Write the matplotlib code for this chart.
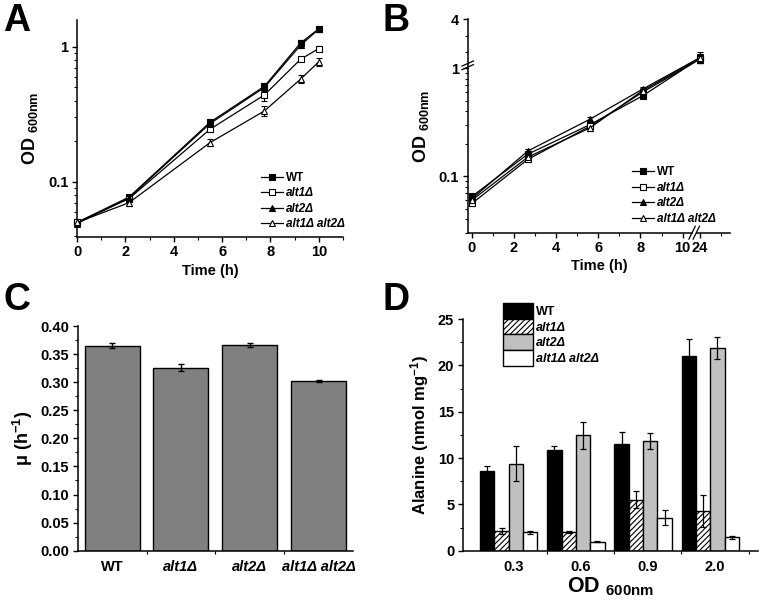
import numpy as np
import matplotlib
matplotlib.use("Agg")
import matplotlib.pyplot as plt
from matplotlib.ticker import FixedLocator, NullFormatter, MultipleLocator, FormatStrFormatter

plt.rcParams['font.family'] = ['Liberation Sans', 'DejaVu Sans']
plt.rcParams['font.weight'] = 'bold'
plt.rcParams['axes.labelweight'] = 'bold'
plt.rcParams['mathtext.fontset'] = 'custom'
plt.rcParams['mathtext.rm'] = 'Liberation Sans:bold'
plt.rcParams['mathtext.it'] = 'Liberation Sans:bold:italic'
plt.rcParams['mathtext.bf'] = 'Liberation Sans:bold'
plt.rcParams['hatch.linewidth'] = 0.8

strains = ['WT', 'alt1Δ', 'alt2Δ', 'alt1Δ alt2Δ']

# panel A - growth curves
time_a = [0, 2.15, 5.5, 7.75, 9.25, 10]
od_a_wt = [0.050, 0.077, 0.276, 0.51, 1.07, 1.36]
od_a_alt1 = [0.050, 0.075, 0.245, 0.44, 0.81, 0.97]
od_a_alt2 = [0.049, 0.076, 0.270, 0.50, 1.03, 1.35]
od_a_dbl = [0.050, 0.070, 0.195, 0.335, 0.577, 0.775]
err_a_wt = [0.002, 0.003, 0.010, 0.030, 0.05, 0.06]
err_a_alt1 = [0.002, 0.003, 0.010, 0.040, 0.03, 0.04]
err_a_alt2 = [0.002, 0.003, 0.010, 0.030, 0.05, 0.06]
err_a_dbl = [0.002, 0.004, 0.012, 0.030, 0.04, 0.05]

# panel B - growth curves, broken axes
time_b = [0, 2.65, 5.6, 8.1, 24]
od_b_wt = [0.065, 0.160, 0.300, 0.555, 1.60]
od_b_alt1 = [0.056, 0.143, 0.290, 0.600, 1.55]
od_b_alt2 = [0.062, 0.171, 0.337, 0.640, 1.65]
od_b_dbl = [0.060, 0.150, 0.280, 0.620, 1.60]
err_b_wt = [0.004, 0.008, 0.015, 0.03, 0.30]
err_b_alt1 = [0.003, 0.007, 0.015, 0.03, 0.25]
err_b_alt2 = [0.004, 0.008, 0.015, 0.03, 0.35]
err_b_dbl = [0.003, 0.007, 0.015, 0.03, 0.30]

# panel C - growth rates
mu = [0.365, 0.326, 0.366, 0.302]
mu_err = [0.005, 0.006, 0.004, 0.002]

# panel D - alanine content
od_groups = ['0.3', '0.6', '0.9', '2.0']
ala_wt = [8.6, 10.9, 11.5, 21.0]
ala_alt1 = [2.1, 2.05, 5.5, 4.3]
ala_alt2 = [9.4, 12.45, 11.85, 21.9]
ala_dbl = [2.0, 0.95, 3.55, 1.45]
ala_wt_err = [0.55, 0.4, 1.3, 1.85]
ala_alt1_err = [0.3, 0.1, 0.9, 1.7]
ala_alt2_err = [1.9, 1.45, 0.85, 1.2]
ala_dbl_err = [0.15, 0.05, 0.8, 0.15]

FS = 10.5
LBL = 10.5


def style_axes(ax):
    for s in ['top', 'right']:
        ax.spines[s].set_visible(False)
    for s in ['left', 'bottom']:
        ax.spines[s].set_linewidth(1.1)
    ax.tick_params(which='major', direction='out', length=3.6, width=1, labelsize=FS, pad=2.5)
    ax.tick_params(which='minor', direction='out', length=2.2, width=0.8)


def strain_style(name):
    return 'normal' if name == 'WT' else 'italic'


def growth_legend(ax, handles, anchor):
    leg = ax.legend(handles, strains, loc='lower left', bbox_to_anchor=anchor, frameon=False,
                    fontsize=8.5, handlelength=1.9, handletextpad=0.25, labelspacing=0.3,
                    borderpad=0, borderaxespad=0)
    for t, name in zip(leg.get_texts(), strains):
        t.set_fontstyle(strain_style(name))
    return leg


fig = plt.figure(figsize=(7.65, 6.01), dpi=100)

# ---------------- A ----------------
axA = fig.add_axes([77 / 765, 1 - 237 / 601, 266 / 765, 217 / 601])
series_a = [(od_a_wt, err_a_wt, 's', 'k'), (od_a_alt1, err_a_alt1, 's', 'w'),
            (od_a_alt2, err_a_alt2, '^', 'k'), (od_a_dbl, err_a_dbl, '^', 'w')]
handles_a = []
for name, (vals, errs, mk, fc) in zip(strains, series_a):
    c = axA.errorbar(time_a, vals, yerr=errs, color='k', lw=0.9, marker=mk, ms=5,
                     mfc=fc, mec='k', mew=0.8, capsize=2, elinewidth=0.8,
                     clip_on=False, zorder=3)
    handles_a.append(c[0])
axA.set_yscale('log')
axA.set_xlim(0, 11)
axA.set_ylim(0.039, 1.58)
axA.set_yticks([0.1, 1])
axA.set_yticklabels(['0.1', '1'])
axA.yaxis.set_minor_locator(FixedLocator([0.04, 0.05, 0.06, 0.07, 0.08, 0.09] + [i / 10 for i in range(2, 10)]))
axA.yaxis.set_minor_formatter(NullFormatter())
axA.set_xticks([0, 2, 4, 6, 8, 10])
axA.xaxis.set_minor_locator(FixedLocator([1, 3, 5, 7, 9, 11]))
style_axes(axA)
axA.set_xlabel('Time (h)', fontsize=LBL, labelpad=3)
axA.set_ylabel(r'OD $_{\mathrm{600nm}}$', fontsize=LBL + 2.5, labelpad=6)
growth_legend(axA, handles_a, (0.69, 0.03))

# ---------------- B ----------------
def fwd_x(x):
    x = np.asarray(x, dtype=float)
    return np.where(x <= 10.45, x, np.where(x >= 23.83, x - 13.18, 10.45 + (x - 10.45) * 0.2 / 13.38))


def inv_x(t):
    t = np.asarray(t, dtype=float)
    return np.where(t <= 10.45, t, np.where(t >= 10.65, t + 13.18, 10.45 + (t - 10.45) * 13.38 / 0.2))


def fwd_y(y):
    y = np.asarray(y, dtype=float)
    return np.where(y <= 1, np.log10(np.clip(y, 1e-9, None)), (y - 1) * 0.151)


def inv_y(t):
    t = np.asarray(t, dtype=float)
    return np.where(t <= 0, 10 ** np.clip(t, -20, 0), 1 + t / 0.151)


axB = fig.add_axes([467.7 / 765, 1 - 232.7 / 601, 262.3 / 765, 213.4 / 601])
axB.set_xscale('function', functions=(fwd_x, inv_x))
axB.set_yscale('function', functions=(fwd_y, inv_y))
series_b = [(od_b_wt, err_b_wt, 's', 'k'), (od_b_alt1, err_b_alt1, 's', 'w'),
            (od_b_alt2, err_b_alt2, '^', 'k'), (od_b_dbl, err_b_dbl, '^', 'w')]
handles_b = []
for name, (vals, errs, mk, fc) in zip(strains, series_b):
    c = axB.errorbar(time_b, vals, yerr=errs, color='k', lw=0.9, marker=mk, ms=5,
                     mfc=fc, mec='k', mew=0.8, capsize=2, elinewidth=0.8,
                     clip_on=False, zorder=3)
    handles_b.append(c[0])
axB.set_xlim(-0.2, 25.43)
axB.set_ylim(0.03, 4)
axB.xaxis.set_major_locator(FixedLocator([0, 2, 4, 6, 8, 10, 24]))
axB.xaxis.set_major_formatter(FormatStrFormatter('%d'))
axB.xaxis.set_minor_locator(FixedLocator([1, 3, 5, 7, 9, 25]))
axB.xaxis.set_minor_formatter(NullFormatter())
axB.yaxis.set_major_locator(FixedLocator([0.1, 1, 4]))
axB.set_yticklabels(['0.1', '1', '4'])
axB.yaxis.set_minor_locator(FixedLocator([0.03, 0.04, 0.05, 0.06, 0.07, 0.08, 0.09]
                                         + [i / 10 for i in range(2, 10)] + [2, 3]))
axB.yaxis.set_minor_formatter(NullFormatter())
style_axes(axB)
axB.set_xlabel('Time (h)', fontsize=LBL, labelpad=3)
axB.set_ylabel(r'OD $_{\mathrm{600nm}}$', fontsize=LBL + 2.5, labelpad=6)

# break gaps and marks
to_axes = axB.transData + axB.transAxes.inverted()
gx0 = to_axes.transform((10.45, 1))[0]
gx1 = to_axes.transform((23.83, 1))[0]
gy = to_axes.transform((1, 1))[1]
axB.add_patch(plt.Rectangle((gx0, 0.45), gx1 - gx0, 0.5, transform=axB.transAxes,
                            color='white', zorder=2.5, lw=0))
for xx in (gx0, gx1):
    axB.plot([xx - 0.012, xx + 0.012], [-0.03, 0.03], transform=axB.transAxes, color='k',
             lw=0.9, clip_on=False, zorder=5)
axB.add_patch(plt.Rectangle((gx0 + 0.002, -0.01), gx1 - gx0 - 0.004, 0.02, transform=axB.transAxes,
                            color='white', zorder=4, lw=0, clip_on=False))
for yy in (gy + 0.005, gy + 0.022):
    axB.plot([-0.022, 0.022], [yy - 0.012, yy + 0.012], transform=axB.transAxes, color='k',
             lw=0.9, clip_on=False, zorder=5)
growth_legend(axB, handles_b, (0.625, 0.036))

# ---------------- C ----------------
axC = fig.add_axes([77.7 / 765, 1 - 550.7 / 601, 275.3 / 765, 224.7 / 601])
xc = np.arange(1, len(strains) + 1)
axC.bar(xc, mu, width=0.8, color='#808080', edgecolor='k', lw=1.0,
        yerr=mu_err, capsize=2.5, error_kw=dict(elinewidth=1, capthick=1, ecolor='k'))
axC.set_xlim(0.5, 4.5)
axC.set_ylim(0, 0.40)
axC.yaxis.set_major_locator(MultipleLocator(0.05))
axC.yaxis.set_minor_locator(MultipleLocator(0.025))
axC.yaxis.set_major_formatter(FormatStrFormatter('%.2f'))
axC.set_xticks(xc)
axC.set_xticklabels(strains)
axC.xaxis.set_minor_locator(FixedLocator([1.5, 2.5, 3.5]))
style_axes(axC)
axC.tick_params(axis='x', which='major', length=0, pad=7)
for t, name in zip(axC.get_xticklabels(), strains):
    t.set_fontstyle(strain_style(name))
axC.set_ylabel(r'μ (h$^{-1}$)', fontsize=LBL + 2.5, labelpad=4)

# ---------------- D ----------------
axD = fig.add_axes([462.7 / 765, 1 - 550.7 / 601, 295.3 / 765, 231.7 / 601])
xd = np.arange(1, len(od_groups) + 1)
w = 0.213
series_d = [(ala_wt, ala_wt_err, 'k', None), (ala_alt1, ala_alt1_err, 'white', '//////'),
            (ala_alt2, ala_alt2_err, '#c0c0c0', None), (ala_dbl, ala_dbl_err, 'white', None)]
for i, (name, (vals, errs, fc, hatch)) in enumerate(zip(strains, series_d)):
    axD.bar(xd + (i - 1.5) * w - 0.07, vals, width=w, color=fc, edgecolor='k', lw=1.0,
            hatch=hatch, label=name, yerr=errs, capsize=2.5,
            error_kw=dict(elinewidth=0.9, capthick=0.9, ecolor='k'))
axD.set_xlim(0.245, 4.64)
axD.set_ylim(0, 25)
axD.yaxis.set_major_locator(MultipleLocator(5))
axD.yaxis.set_minor_locator(MultipleLocator(2.5))
axD.set_xticks(xd)
axD.set_xticklabels(od_groups)
axD.xaxis.set_minor_locator(FixedLocator([1.5, 2.5, 3.5, 4.5]))
style_axes(axD)
axD.tick_params(axis='x', which='major', length=0, pad=7)
axD.set_xlabel(r'OD $_{\mathrm{600nm}}$', fontsize=LBL + 5, labelpad=1)
axD.set_ylabel(r'Alanine (nmol mg$^{-1}$)', fontsize=LBL + 1.5, labelpad=5)
legD = axD.legend(loc='upper left', bbox_to_anchor=(0.137, 1.069), frameon=False, fontsize=9,
                  handlelength=2.4, handleheight=1.55, handletextpad=0.2, labelspacing=0.0,
                  borderpad=0, borderaxespad=0)
for t, name in zip(legD.get_texts(), strains):
    t.set_fontstyle(strain_style(name))

# panel letters
for x, y, s in [(0.004, 0.995, 'A'), (0.5, 0.995, 'B'), (0.004, 0.53, 'C'), (0.5, 0.53, 'D')]:
    fig.text(x, y, s, fontsize=27, fontweight='bold', va='top', ha='left')

fig.savefig('out.png', dpi=100)
